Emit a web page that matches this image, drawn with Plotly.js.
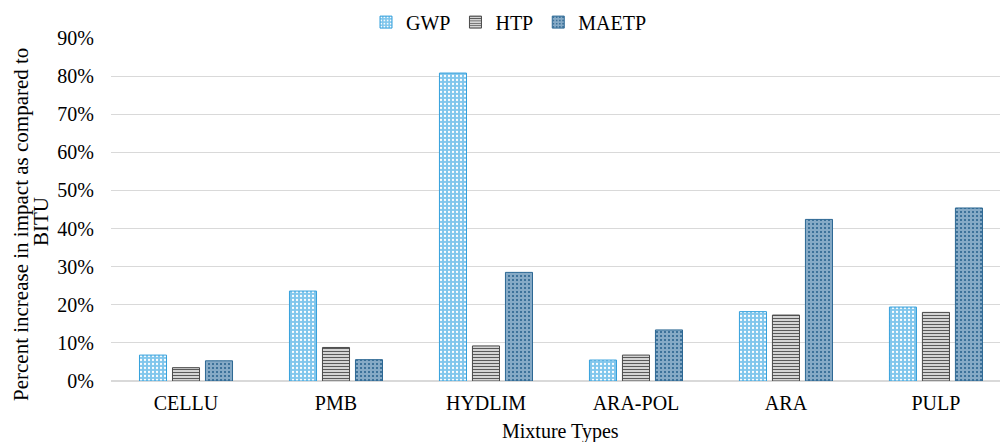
<!DOCTYPE html>
<html>
<head>
<meta charset="utf-8">
<script src="https://cdn.plot.ly/plotly-3.0.1.min.js"></script>
<style>html,body{margin:0;padding:0;background:#fff;}#chart{width:1000px;height:442px;}</style>
</head>
<body>
<div id="chart"></div>
<script>
var categories = ["CELLU", "PMB", "HYDLIM", "ARA-POL", "ARA", "PULP"];
var gwp   = [0.068, 0.236, 0.808, 0.055, 0.182, 0.194];
var htp   = [0.035, 0.088, 0.092, 0.068, 0.173, 0.180];
var maetp = [0.053, 0.056, 0.285, 0.134, 0.424, 0.454];
var seriesNames = ["GWP", "HTP", "MAETP"];
var yTitleLines = ["Percent increase in impact as compared to", "BITU"];
var xTitle = "Mixture Types";

var FONT = "'Liberation Serif', 'Times New Roman', serif";

var traces = [
  {type: "bar", name: seriesNames[0], x: categories, y: gwp,
   marker: {color: "#8fcbec", line: {color: "#35a0dc", width: 1},
            pattern: {shape: ".", bgcolor: "#80c6ec", fgcolor: "#ffffff", size: 4, solidity: 0.25}}},
  {type: "bar", name: seriesNames[1], x: categories, y: htp,
   marker: {color: "#bdbdbd", line: {color: "#4a4a4a", width: 1},
            pattern: {shape: "-", bgcolor: "#eeeeee", fgcolor: "#5a5a5a", size: 3, solidity: 0.45}}},
  {type: "bar", name: seriesNames[2], x: categories, y: maetp,
   marker: {color: "#7fa6c4", line: {color: "#2c6894", width: 1},
            pattern: {shape: ".", bgcolor: "#86aac6", fgcolor: "#245f8c", size: 4, solidity: 0.2}}}
];

var layout = {
  width: 1000, height: 442,
  margin: {l: 111, r: 0, t: 38, b: 61, autoexpand: false},
  paper_bgcolor: "#ffffff", plot_bgcolor: "#ffffff",
  font: {family: FONT, size: 20, color: "#000000"},
  barmode: "group", bargap: 0.34, bargroupgap: 0.18,
  showlegend: true,
  legend: {orientation: "h", x: 0.509, xref: "container", xanchor: "center",
           y: 0.95, yref: "container", yanchor: "middle",
           font: {family: FONT, size: 20, color: "#000"}, itemwidth: 30, tracegroupgap: 0},
  xaxis: {
    type: "category", range: [-0.5, 5.427], showgrid: false, zeroline: false,
    showline: false, ticks: "", ticklabelstandoff: 8,
    tickfont: {family: FONT, size: 20, color: "#000"}
  },
  yaxis: {
    range: [0, 0.9], dtick: 0.1, tickformat: ".0%", showgrid: true, gridcolor: "#d9d9d9", gridwidth: 1,
    zeroline: true, zerolinecolor: "#d9d9d9", zerolinewidth: 1.5, showline: false, ticks: "",
    ticklabelstandoff: 16,
    tickfont: {family: FONT, size: 20, color: "#000"}
  },
  annotations: [
    {text: yTitleLines[0], textangle: -90, showarrow: false, xref: "paper", yref: "paper",
     x: (21 - 111) / 889, y: (381 - 225) / 343, xanchor: "center", yanchor: "middle",
     font: {family: FONT, size: 21, color: "#000"}},
    {text: yTitleLines[1], textangle: -90, showarrow: false, xref: "paper", yref: "paper",
     x: (41 - 111) / 889, y: (381 - 222) / 343, xanchor: "center", yanchor: "middle",
     font: {family: FONT, size: 21, color: "#000"}},
    {text: xTitle, showarrow: false, xref: "paper", yref: "paper",
     x: (560 - 111) / 889, y: (381 - 432) / 343, xanchor: "center", yanchor: "middle",
     font: {family: FONT, size: 20, color: "#000"}}
  ]
};

Plotly.newPlot("chart", traces, layout, {displayModeBar: false, staticPlot: true});
</script>
</body>
</html>
